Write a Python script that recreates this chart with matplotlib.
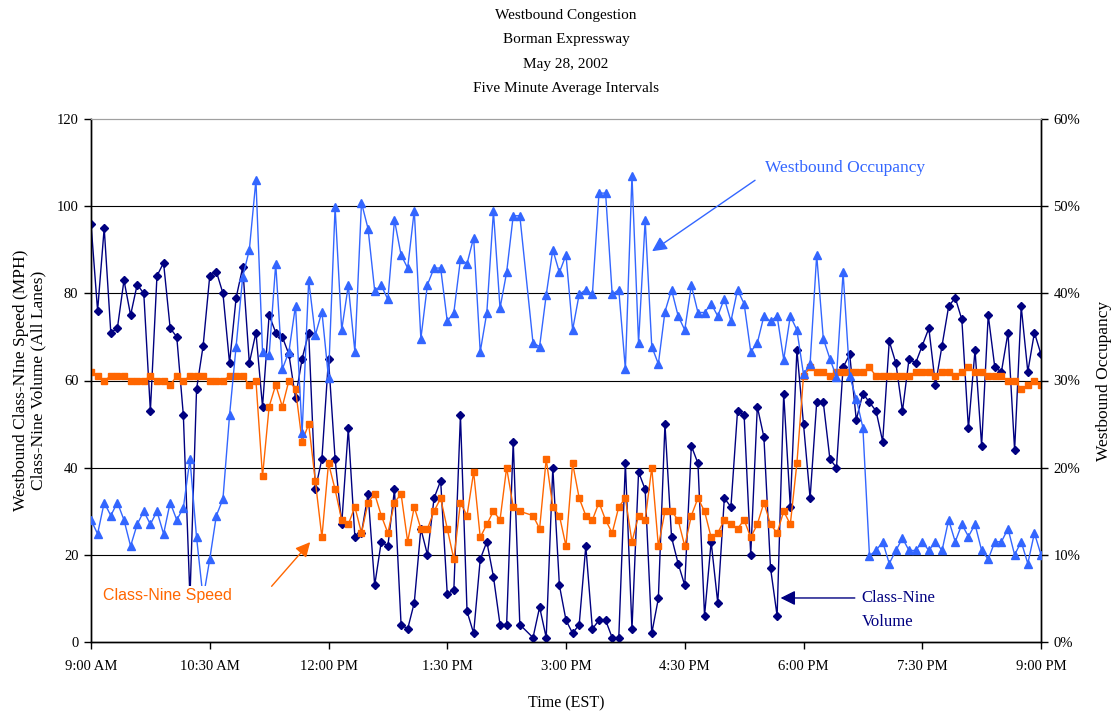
import numpy as np
import matplotlib
matplotlib.use("Agg")
import matplotlib.pyplot as plt
from matplotlib.ticker import PercentFormatter, MultipleLocator

plt.rcParams['font.family'] = ['Liberation Serif', 'DejaVu Serif']

nan = np.nan
# 5-minute intervals from 9:00 AM (minutes after 9:00 AM)
minutes = np.arange(0, 725, 5)

# Class-Nine volume (all lanes)
volume = [96, 76, 95, 71, 72, 83, 75, 82, 80, 53, 84, 87, 72, 70, 52, 10, 58, 68, 84,
          85, 80, 64, 79, 86, 64, 71, 54, 75, 71, 70, 66, 56, 65, 71, 35, 42, 65,
          42, 27, 49, 24, 25, 34, 13, 23, 22, 35, 4, 3, 9, 26, 20, 33, 37, 11,
          12, 52, 7, 2, 19, 23, 15, 4, 4, 46, 4, nan, 1, 8, 1, 40, 13, 5,
          2, 4, 22, 3, 5, 5, 1, 1, 41, 3, 39, 35, 2, 10, 50, 24, 18, 13,
          45, 41, 6, 23, 9, 33, 31, 53, 52, 20, 54, 47, 17, 6, 57, 31, 67, 50,
          33, 55, 55, 42, 40, 63, 66, 51, 57, 55, 53, 46, 69, 64, 53, 65, 64, 68,
          72, 59, 68, 77, 79, 74, 49, 67, 45, 75, 63, 62, 71, 44, 77, 62, 71, 66]

# Class-Nine speed (MPH)
speed = [62, 61, 60, 61, 61, 61, 60, 60, 60, 61, 60, 60, 59, 61, 60, 61, 61, 61, 60,
         60, 60, 61, 61, 61, 59, 60, 38, 54, 59, 54, 60, 58, 46, 50, 37, 24, 41,
         35, 28, 27, 31, 25, 32, 34, 29, 25, 32, 34, 23, 31, 26, 26, 30, 33, 26,
         19, 32, 29, 39, 24, 27, 30, 28, 40, 31, 30, nan, 29, 26, 42, 31, 29, 22,
         41, 33, 29, 28, 32, 28, 25, 31, 33, 23, 29, 28, 40, 22, 30, 30, 28, 22,
         29, 33, 30, 24, 25, 28, 27, 26, 28, 24, 27, 32, 27, 25, 30, 27, 41, 61,
         63, 62, 62, 61, 62, 62, 62, 62, 62, 63, 61, 61, 61, 61, 61, 61, 62, 62,
         62, 61, 62, 62, 61, 62, 63, 62, 62, 61, 61, 61, 60, 60, 58, 59, 60, 59]

# Westbound occupancy (%)
occupancy = [14, 12.4, 16, 14.5, 16, 14, 11, 13.5, 15, 13.5, 15, 12.4, 16, 14, 15.4, 21, 12, 5, 9.5,
             14.5, 16.4, 26, 33.9, 41.9, 45, 53, 33.3, 32.9, 43.4, 31.3, 33.3, 38.6, 24, 41.5, 35.2, 37.9, 30.3,
             49.9, 35.8, 40.9, 33.3, 50.4, 47.4, 40.3, 40.9, 39.3, 48.4, 44.4, 42.9, 49.5, 34.8, 41, 42.9, 42.9, 36.8,
             37.8, 43.9, 43.4, 46.4, 33.3, 37.8, 49.4, 38.3, 42.4, 48.9, 48.9, nan, 34.3, 33.9, 39.8, 45, 42.4, 44.4,
             35.8, 39.9, 40.4, 39.9, 51.5, 51.5, 39.9, 40.4, 31.3, 53.5, 34.3, 48.4, 33.9, 31.9, 37.9, 40.4, 37.4, 35.8,
             40.9, 37.8, 37.8, 38.8, 37.4, 39.4, 36.8, 40.4, 38.8, 33.3, 34.3, 37.4, 36.8, 37.4, 32.4, 37.4, 35.8, 30.7,
             31.9, 44.4, 34.8, 32.5, 30.4, 42.4, 30.5, 27.9, 24.6, 9.9, 10.5, 11.5, 9, 10.5, 11.9, 10.5, 10.5, 11.5,
             10.5, 11.5, 10.5, 14, 11.5, 13.5, 12.1, 13.5, 10.5, 9.5, 11.5, 11.5, 13, 10, 11.5, 9, 12.5, 10]

tick_minutes = [0, 90, 180, 270, 360, 450, 540, 630, 720]
tick_labels = ["9:00 AM", "10:30 AM", "12:00 PM", "1:30 PM", "3:00 PM",
               "4:30 PM", "6:00 PM", "7:30 PM", "9:00 PM"]
title_lines = ["Westbound Congestion", "Borman Expressway", "May 28, 2002",
               "Five Minute Average Intervals"]

NAVY = '#000080'
ORANGE = '#FF6600'
BLUE = '#3366FF'

W, H = 1118, 715
fig = plt.figure(figsize=(W / 100, H / 100), dpi=100)
L, R, T, B = 91, 1041, 119, 642
ax = fig.add_axes([L / W, 1 - B / H, (R - L) / W, (B - T) / H])
ax2 = ax.twinx()


def valid(series):
    arr = np.asarray(series, dtype=float)
    m = ~np.isnan(arr)
    return minutes[m], arr[m]


x, y = valid(volume)
ax.plot(x, y, color=NAVY, lw=1.0, marker='D', ms=4.3, mec=NAVY, mfc=NAVY, zorder=3)
x, y = valid(speed)
ax.plot(x, y, color=ORANGE, lw=1.0, marker='s', ms=4.8, mec=ORANGE, mfc=ORANGE, zorder=4)
x, y = valid(occupancy)
ax2.plot(x, y, color=BLUE, lw=1.0, marker='^', ms=6, mec=BLUE, mfc=BLUE, zorder=3)

ax.set_xlim(0, 720)
ax.set_ylim(0, 120)
ax2.set_ylim(0, 60)
ax.set_xticks(tick_minutes)
ax.set_xticklabels(tick_labels)
ax.yaxis.set_major_locator(MultipleLocator(20))
ax2.yaxis.set_major_locator(MultipleLocator(10))
ax2.yaxis.set_major_formatter(PercentFormatter(decimals=0))

for yv in [20, 40, 60, 80, 100]:
    ax.axhline(yv, color='black', lw=0.8, zorder=1)

for a in (ax, ax2):
    a.tick_params(direction='out', length=5, width=1, labelsize=10.5, colors='black')
    for s in ['left', 'right', 'bottom']:
        a.spines[s].set_color('black')
        a.spines[s].set_linewidth(1.0)
    a.spines['top'].set_color('#A0A0A0')
    a.spines['top'].set_linewidth(0.8)
ax.tick_params(axis='x', pad=8)
ax.tick_params(axis='y', pad=4)
ax2.tick_params(axis='y', pad=4)

# titles
for i, line in enumerate(title_lines):
    fig.text(566 / W, 1 - (15 + i * 24.6) / H, line, ha='center', va='center', fontsize=11)

fig.text(566 / W, 1 - 703 / H, "Time (EST)", ha='center', va='center', fontsize=11.5)
fig.text(30 / W, 1 - 380 / H, "Westbound Class-NIne Speed (MPH)\nClass-Nine Volume (All Lanes)",
         ha='center', va='center', rotation=90, fontsize=12.5, multialignment='center',
         linespacing=1.1)
fig.text(1104 / W, 1 - 381 / H, "Westbound Occupancy", ha='center', va='center',
         rotation=90, fontsize=12.5)

# annotations (coordinates in left-axis data units)
ax2.annotate("", xy=(423.5, 89.3), xycoords=ax.transData,
             xytext=(505, 106.3), textcoords=ax.transData,
             arrowprops=dict(arrowstyle='-|>', color=BLUE, lw=1.0, mutation_scale=22),
             zorder=10)
ax2.text(511, 108.8, "Westbound Occupancy", transform=ax.transData, color=BLUE,
         fontsize=12.5, ha='left', va='center', zorder=10)

ax2.text(9, 10.6, "Class-Nine Speed", transform=ax.transData, color=ORANGE,
         fontsize=11.5, family=['Liberation Sans', 'DejaVu Sans'], ha='left', va='center',
         bbox=dict(facecolor='white', edgecolor='none', pad=1.5), zorder=10)
ax2.annotate("", xy=(167.5, 23.4), xycoords=ax.transData,
             xytext=(135.5, 12.3), textcoords=ax.transData,
             arrowprops=dict(arrowstyle='-|>', color=ORANGE, lw=1.0, mutation_scale=22),
             zorder=10)

ax2.annotate("", xy=(520.5, 10.1), xycoords=ax.transData,
             xytext=(581, 10.1), textcoords=ax.transData,
             arrowprops=dict(arrowstyle='-|>', color=NAVY, lw=1.0, mutation_scale=22),
             zorder=10)
ax2.text(584, 10.1, "Class-Nine", transform=ax.transData, color=NAVY,
         fontsize=12, ha='left', va='center', zorder=10)
ax2.text(584, 4.6, "Volume", transform=ax.transData, color=NAVY,
         fontsize=12, ha='left', va='center', zorder=10)

fig.savefig("out.png", dpi=100, facecolor='white')
